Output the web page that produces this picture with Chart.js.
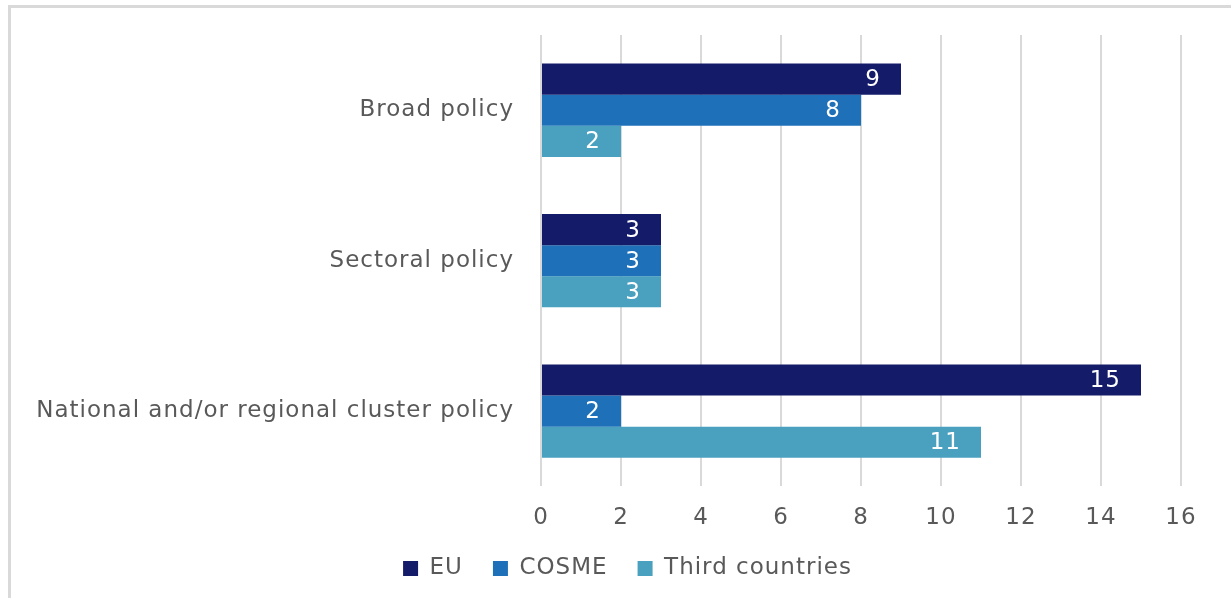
<!DOCTYPE html>
<html>
<head>
<meta charset="utf-8">
<title>Cluster policy</title>
<script src="https://cdn.jsdelivr.net/npm/chart.js"></script>
<style>
  html, body { margin: 0; padding: 0; background: #fff; overflow: hidden; }
  .frame { position: absolute; left: 8px; top: 5px; width: 1300px; height: 700px;
           border-left: 3px solid #d9d9d9; border-top: 3px solid #d9d9d9; }
  .wrap { position: absolute; left: 0; top: 0; width: 1231px; height: 598px; }
</style>
</head>
<body>
<div class="frame"></div>
<div class="wrap"><canvas id="chart"></canvas></div>
<script>
const categories = ['Broad policy', 'Sectoral policy', 'National and/or regional cluster policy'];
const euValues = [9, 3, 15];
const cosmeValues = [8, 3, 2];
const thirdValues = [2, 3, 11];

const FONT = "'DejaVu Sans', sans-serif";
const GREY = '#595959';

// wider text, closer to the original typeface; legend nudged right
const spacing = {
  id: 'spacing',
  beforeUpdate(chart) { chart.ctx.letterSpacing = '1px'; },
  beforeLayout(chart) { chart.ctx.letterSpacing = '1px'; },
  afterLayout(chart) {
    chart.legend.left += 37;
    chart.legend.right += 37;
  },
  beforeDraw(chart) { chart.ctx.letterSpacing = '1px'; }
};

// white value labels inside the bar end
const valueLabels = {
  id: 'valueLabels',
  afterDatasetsDraw(chart) {
    const ctx = chart.ctx;
    ctx.save();
    ctx.fillStyle = '#fff';
    ctx.font = '23px ' + FONT;
    ctx.textAlign = 'right';
    ctx.textBaseline = 'middle';
    chart.data.datasets.forEach((ds, i) => {
      chart.getDatasetMeta(i).data.forEach((bar, j) => {
        ctx.fillText(String(ds.data[j]), bar.x - 20, bar.y + 1);
      });
    });
    ctx.restore();
  }
};

new Chart(document.getElementById('chart'), {
  type: 'bar',
  data: {
    labels: categories,
    datasets: [
      { label: 'EU', data: euValues, backgroundColor: '#141c6a' },
      { label: 'COSME', data: cosmeValues, backgroundColor: '#1e70b8' },
      { label: 'Third countries', data: thirdValues, backgroundColor: '#4aa0bf' }
    ]
  },
  options: {
    indexAxis: 'y',
    responsive: true,
    maintainAspectRatio: false,
    animation: false,
    datasets: { bar: { categoryPercentage: 0.62, barPercentage: 1, borderWidth: 0 } },
    layout: { padding: { top: 35, right: 50, left: 0, bottom: 8 } },
    plugins: {
      legend: {
        position: 'bottom',
        labels: { font: { family: FONT, size: 23 }, color: GREY, boxWidth: 15, boxHeight: 15, padding: 30 }
      },
      tooltip: { enabled: false }
    },
    scales: {
      x: {
        min: 0, max: 16,
        afterFit(scale) { scale.height = scale.height - 23; },
        ticks: { stepSize: 2, font: { family: FONT, size: 23 }, color: GREY, padding: 18 },
        grid: { color: '#d9d9d9', lineWidth: 2, drawTicks: false },
        border: { display: false }
      },
      y: {
        afterFit(scale) { scale.width = 541; scale.paddingTop = 0; },
        ticks: { font: { family: FONT, size: 23 }, color: GREY, padding: 27 },
        grid: { display: false, drawTicks: false },
        border: { display: false }
      }
    }
  },
  plugins: [spacing, valueLabels]
});
</script>
</body>
</html>
